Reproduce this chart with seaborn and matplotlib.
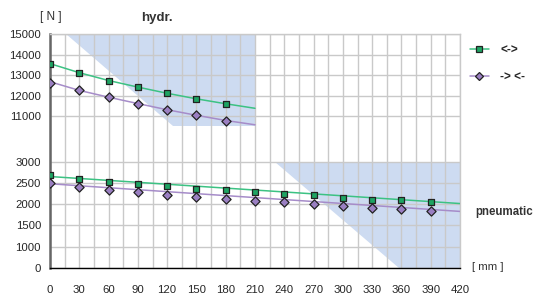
import numpy as np
import pandas as pd
import matplotlib
matplotlib.use('Agg')
import matplotlib.pyplot as plt
from matplotlib.lines import Line2D
from matplotlib.patches import Polygon
import seaborn as sns

# %%
# stroke [mm] and force [N]
stroke_hyd = [0, 30, 60, 90, 120, 150, 180]
hyd_open = [13520, 13100, 12710, 12440, 12130, 11830, 11610]
hyd_close = [12630, 12270, 11935, 11610, 11300, 11060, 10780]
hyd_line_x = [0, 30, 60, 90, 120, 150, 180, 210]
hyd_line_open = [13560, 13120, 12740, 12420, 12120, 11850, 11610, 11390]
hyd_line_close = [12680, 12260, 11930, 11620, 11320, 11050, 10800, 10590]

stroke_pn = [0, 30, 60, 90, 120, 150, 180, 210, 240, 270, 300, 330, 360, 390]
pn_open = [2676, 2595, 2533, 2486, 2430, 2367, 2335, 2288, 2248, 2210, 2155, 2105, 2090, 2060]
pn_close = [2500, 2398, 2335, 2280, 2210, 2163, 2131, 2075, 2045, 2005, 1960, 1922, 1892, 1846]
pn_line_x = [0, 420]
pn_line_open = [2650, 2015]
pn_line_close = [2480, 1830]

# shaded working areas
hyd_area_x = [16, 210, 210, 126]
hyd_area_y = [15000, 15000, 10520, 10520]
pn_area_x = [230, 420, 420, 358]
pn_area_y = [3000, 3000, 0, 0]

yticks = [0, 1000, 1500, 2000, 2500, 3000, 11000, 12000, 13000, 14000, 15000]
xticks = list(range(0, 421, 30))

# broken force axis: piecewise linear scale
knots_val = [0, 1000, 3000, 10000, 11000, 15000]
knots_pos = [0, 1, 5, 6.16, 7.13, 11.0]

def fwd(v):
    return np.interp(v, knots_val, knots_pos)

def inv(p):
    return np.interp(p, knots_pos, knots_val)

# %%
sns.set_style('white')
plt.rcParams['font.family'] = ['Liberation Sans', 'DejaVu Sans']

GREEN_LINE = '#3cc283'
GREEN_MARK = '#1ea463'
PURPLE_LINE = '#a68cc9'
PURPLE_MARK = '#9a7fc2'
SHADE = '#cddbf1'
GRID = '#c9c9c9'

fig = plt.figure(figsize=(5.35, 2.96), dpi=100)
ax = fig.add_axes([50 / 535, 28 / 296, 410 / 535, 234 / 296])
ax.set_yscale('function', functions=(fwd, inv))

ax.add_patch(Polygon(list(zip(hyd_area_x, hyd_area_y)), closed=True, fc=SHADE, ec='none', zorder=0))
ax.add_patch(Polygon(list(zip(pn_area_x, pn_area_y)), closed=True, fc=SHADE, ec='none', zorder=0))

sns.lineplot(x=hyd_line_x, y=hyd_line_open, color=GREEN_LINE, lw=1.1, ax=ax, zorder=3)
sns.lineplot(x=hyd_line_x, y=hyd_line_close, color=PURPLE_LINE, lw=1.1, ax=ax, zorder=3)
sns.lineplot(x=pn_line_x, y=pn_line_open, color=GREEN_LINE, lw=1.1, ax=ax, zorder=3)
sns.lineplot(x=pn_line_x, y=pn_line_close, color=PURPLE_LINE, lw=1.1, ax=ax, zorder=3)

mk = dict(s=24, edgecolor='#222222', linewidth=0.9, ax=ax, zorder=4, legend=False)
sns.scatterplot(x=stroke_hyd, y=hyd_open, marker='s', color=GREEN_MARK, **mk)
sns.scatterplot(x=stroke_pn, y=pn_open, marker='s', color=GREEN_MARK, **mk)
mk['s'] = 22
sns.scatterplot(x=stroke_hyd, y=hyd_close, marker='D', color=PURPLE_MARK, **mk)
sns.scatterplot(x=stroke_pn, y=pn_close, marker='D', color=PURPLE_MARK, **mk)

ax.set_xlim(0, 420)
ax.set_ylim(0, 15000)
ax.set_xticks(xticks)
ax.set_xticks(range(15, 420, 30), minor=True)
ax.set_yticks(yticks)
ax.set_yticks([], minor=True)
ax.set_yticklabels([str(t) for t in yticks])

ax.grid(True, which='both', axis='x', color=GRID, lw=1.0, zorder=1)
ax.grid(True, which='major', axis='y', color=GRID, lw=1.0, zorder=1)
ax.set_axisbelow(True)

ax.tick_params(axis='x', which='both', direction='inout', length=7, width=1, color='black',
               labelsize=8.2, pad=9)
ax.tick_params(axis='y', direction='inout', length=7, width=1, color='#555555',
               labelsize=8.2, pad=3)
for s in ['top', 'right']:
    ax.spines[s].set_color(GRID)
    ax.spines[s].set_linewidth(1.0)
ax.spines['left'].set_color('#666666')
ax.spines['left'].set_linewidth(1.8)
ax.spines['bottom'].set_color('black')
ax.spines['bottom'].set_linewidth(1.0)
ax.set_xlabel('')
ax.set_ylabel('')

fig.text(40 / 535, 1 - 17 / 296, '[ N ]', fontsize=8.5, va='center', color='#333333')
fig.text(157 / 535, 1 - 18 / 296, 'hydr.', fontsize=9.5, fontweight='bold', ha='center', va='center', color='#333333')
fig.text(475 / 535, 1 - 212 / 296, 'pneumatic', fontsize=8.3, fontweight='bold', va='center', color='#333333')
fig.text(472 / 535, 1 - 267 / 296, '[ mm ]', fontsize=8.2, va='center', color='#333333')

handles = [
    Line2D([], [], color=GREEN_LINE, lw=1.1, marker='s', ms=5, mfc=GREEN_MARK, mec='#222222', mew=0.9),
    Line2D([], [], color=PURPLE_LINE, lw=1.1, marker='D', ms=4.2, mfc=PURPLE_MARK, mec='#222222', mew=0.9),
]
leg = fig.legend(handles, ['<->', '-> <-'], loc='upper left', bbox_to_anchor=(459 / 535, 1 - 34 / 296),
                 frameon=False, handlelength=1.6, handletextpad=1.0, labelspacing=1.2,
                 prop={'size': 8.5, 'weight': 'bold'})

fig.savefig('out.png', dpi=100, facecolor='white')
